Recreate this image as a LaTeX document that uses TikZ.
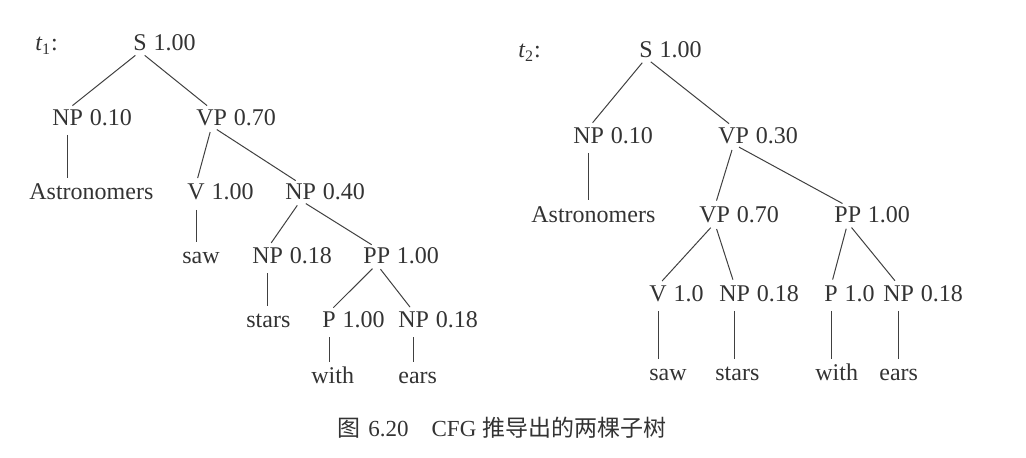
\documentclass[tikz,border=0pt]{standalone}
\usepackage{fontspec}
\setmainfont{Liberation Serif}
\newfontfamily\cjk{Noto Sans CJK SC}

\begin{document}
\begin{tikzpicture}[x=0.5pt, y=-0.5pt,
    every node/.style={font=\fontsize{12}{14}\selectfont, text=black!80},
    cat/.style={anchor=base west, inner sep=0pt},
    prob/.style={anchor=base west, inner sep=0pt, xshift=3pt},
    word/.style={anchor=base west, inner sep=0pt, text height=8pt},
    branch/.style={draw=black!75, line width=0.5pt, shorten <=3pt, shorten >=3pt},
    stem/.style={draw=black!75, line width=0.5pt, shorten <=4.5pt, shorten >=3pt}]
  \useasboundingbox (0,0) rectangle (1026,458);
  % tree t1
  \node[cat] (t1) at (35,51) {\itshape t\textsubscript{\upshape 1}\upshape :};
  \foreach \n/\x/\y/\c/\p in {s1/133/51/S/1.00, np1/52/125.5/NP/0.10, vp1/196/125.5/VP/0.70,
      v1/187/200/V/1.00, np2/285/200/NP/0.40, np3/252/264/NP/0.18, pp1/363/264/PP/1.00,
      p1/322/328/P/1.00, np4/398/328/NP/0.18} {
    \node[cat] (\n) at (\x,\y) {\c};
    \node[prob] (\n-p) at (\n.base east) {\p};
  }
  \foreach \n/\x/\y/\w in {astr1/29/200/Astronomers, saw1/182/264/saw, stars1/246/328/stars,
      with1/311/384/with, ears1/398/384/ears} {
    \node[word] (\n) at (\x,\y) {\w};
  }
  % tree t2
  \node[cat] (t2) at (518,57.5) {\itshape t\textsubscript{\upshape 2}\upshape :};
  \foreach \n/\x/\y/\c/\p in {s2/639/57.5/S/1.00, np5/573/143.5/NP/0.10, vp2/718/143.5/VP/0.30,
      vp3/699/222.5/VP/0.70, pp2/834/222.5/PP/1.00, v2/649/301.5/V/1.0, np6/719/301.5/NP/0.18,
      p2/824/301.5/P/1.0, np7/883/301.5/NP/0.18} {
    \node[cat] (\n) at (\x,\y) {\c};
    \node[prob] (\n-p) at (\n.base east) {\p};
  }
  \foreach \n/\x/\y/\w in {astr2/531/222.5/Astronomers, saw2/649/381/saw, stars2/715/381/stars,
      with2/815/381/with, ears2/879/381/ears} {
    \node[word] (\n) at (\x,\y) {\w};
  }
  % branches
  \foreach \a/\b in {s1/np1, s1/vp1, vp1/v1, vp1/np2, np2/np3, np2/pp1, pp1/p1, pp1/np4,
      s2/np5, s2/vp2, vp2/vp3, vp2/pp2, vp3/v2, vp3/np6, pp2/p2, pp2/np7} {
    \draw[branch] (\a.south) -- (\b.north);
  }
  \foreach \a/\b in {np1/astr1, v1/saw1, np3/stars1, p1/with1, np4/ears1,
      np5/astr2, v2/saw2, np6/stars2, p2/with2, np7/ears2} {
    \draw[stem] (\a.south) -- (\a.south |- \b.north);
  }
  % caption
  \node[cat, font=\fontsize{11.5}{14}\selectfont] (cap) at (337,437)
    {{\cjk 图}\hspace{4pt}6.20\quad CFG {\cjk 推导出的两棵子树}};
\end{tikzpicture}
\end{document}
